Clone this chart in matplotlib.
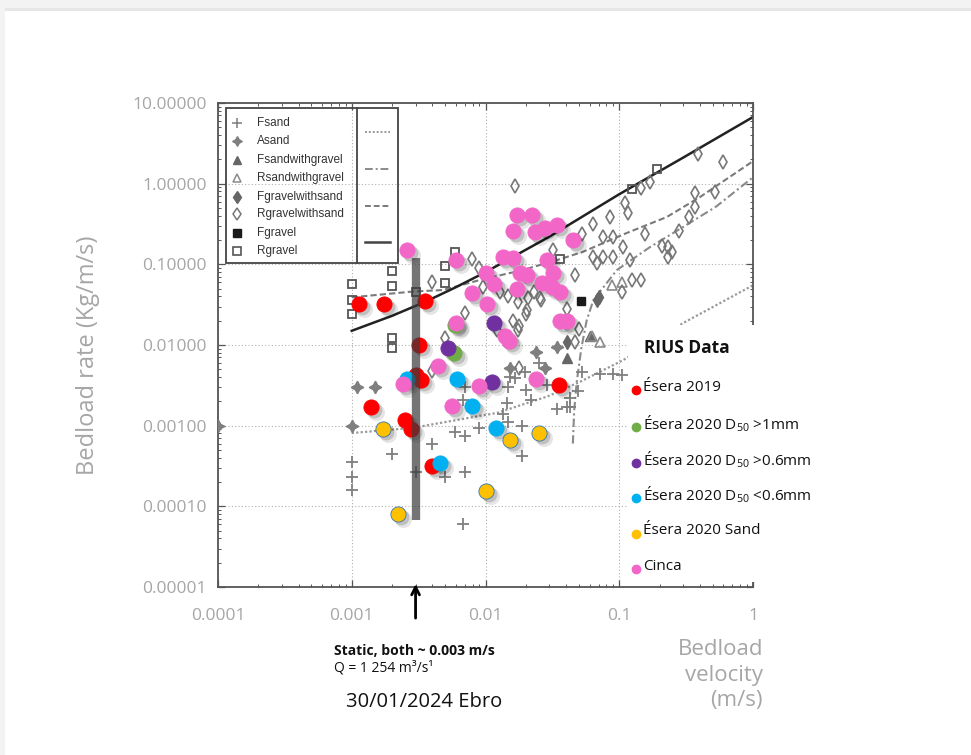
import numpy as np
import matplotlib
matplotlib.use("Agg")
import matplotlib.pyplot as plt
import matplotlib.ticker as ticker
from matplotlib import patches, transforms

plt.rcParams['font.family'] = ['Open Sans', 'DejaVu Sans']
plt.rcParams['mathtext.default'] = 'regular'

GREY_TXT = '#a6a6a6'

# ---- RIUS data (bedload velocity m/s, bedload rate kg/m/s) ----
esera19_v = [0.00113, 0.00174, 0.0035, 0.0032, 0.0030, 0.0033, 0.0014, 0.0025, 0.00276, 0.0040, 0.0355]
esera19_q = [0.032, 0.032, 0.035, 0.010, 0.0042, 0.0037, 0.0017, 0.00117, 0.00091, 0.00032, 0.0032]
d50_1mm_v = [0.0059, 0.0058]
d50_1mm_q = [0.0177, 0.0080]
d50_06up_v = [0.0116, 0.0052, 0.0112]
d50_06up_q = [0.019, 0.0092, 0.0035]
d50_06dn_v = [0.0026, 0.0061, 0.0079, 0.012, 0.0046]
d50_06dn_q = [0.0038, 0.0038, 0.00175, 0.00094, 0.00034]
sand20_v = [0.0017, 0.0152, 0.025, 0.010, 0.0022]
sand20_q = [0.00091, 0.00067, 0.00081, 0.000155, 0.00008]
cinca_v = [0.0026, 0.0060, 0.0172, 0.0223, 0.0160, 0.0234, 0.0278, 0.0343, 0.045, 0.0135,
           0.0160, 0.0288, 0.0100, 0.0116, 0.0180, 0.0204, 0.0320, 0.0172, 0.0264, 0.0313,
           0.0360, 0.0079, 0.0103, 0.0360, 0.0410, 0.0060, 0.0140, 0.0150, 0.0044, 0.0024,
           0.0089, 0.0056, 0.0240]
cinca_q = [0.15, 0.113, 0.41, 0.41, 0.26, 0.25, 0.28, 0.31, 0.20, 0.122,
           0.12, 0.113, 0.077, 0.057, 0.077, 0.074, 0.077, 0.049, 0.058, 0.052,
           0.045, 0.044, 0.032, 0.020, 0.020, 0.019, 0.013, 0.0112, 0.0055, 0.0033,
           0.0031, 0.00175, 0.0038]

# ---- background (literature) data ----
fsand_v = [0.002, 0.001, 0.001, 0.001, 0.004, 0.0059, 0.007, 0.003, 0.005, 0.007, 0.0068, 0.009,
           0.007, 0.0068, 0.0145, 0.0152, 0.0167, 0.0135, 0.0147, 0.0188, 0.0188, 0.0198, 0.0217,
           0.025, 0.0343, 0.043, 0.043, 0.029, 0.09, 0.105, 0.053, 0.049, 0.0147, 0.041, 0.072, 0.02]
fsand_q = [0.00044, 0.00035, 0.00023, 0.00016, 0.00059, 0.00083, 0.00075, 0.00027, 0.00023, 0.00027,
           0.00006, 0.00094, 0.003, 0.0021, 0.0019, 0.0040, 0.0039, 0.0014, 0.0011, 0.001, 0.00042,
           0.0046, 0.0021, 0.006, 0.0016, 0.0022, 0.0017, 0.0032, 0.0044, 0.0042, 0.0046, 0.0027,
           0.003, 0.0017, 0.0044, 0.0028]
asand_v = [0.0011, 0.0015, 0.0001, 0.001, 0.024, 0.028, 0.034, 0.0152]
asand_q = [0.003, 0.003, 0.001, 0.001, 0.0082, 0.0052, 0.0095, 0.0052]
fswg_v = [0.041, 0.060]
fswg_q = [0.0069, 0.013]
rswg_v = [0.063, 0.072, 0.088, 0.105]
rswg_q = [0.013, 0.011, 0.055, 0.060]
fgws_v = [0.041, 0.070, 0.068]
fgws_q = [0.011, 0.039, 0.036]
rgws_v = [0.0166, 0.004, 0.0079, 0.0089, 0.0096, 0.0128, 0.0147, 0.0174, 0.0207, 0.0254,
          0.0204, 0.023, 0.032, 0.047, 0.053, 0.064, 0.064, 0.085, 0.075, 0.09, 0.075, 0.09,
          0.068, 0.107, 0.12, 0.124, 0.145, 0.105, 0.11, 0.116, 0.145, 0.155, 0.17, 0.21,
          0.23, 0.28, 0.33, 0.37, 0.37, 0.52, 0.39, 0.6, 0.23, 0.25, 0.041, 0.05, 0.0178,
          0.016, 0.0122, 0.007, 0.005, 0.0174, 0.02, 0.026, 0.0178, 0.047, 0.004]
rgws_q = [0.93, 0.061, 0.116, 0.09, 0.053, 0.045, 0.04, 0.034, 0.038, 0.038,
          0.027, 0.045, 0.15, 0.074, 0.24, 0.32, 0.122, 0.385, 0.22, 0.22, 0.122, 0.122,
          0.104, 0.163, 0.113, 0.064, 0.064, 0.045, 0.57, 0.43, 0.88, 0.24, 1.05, 0.17,
          0.122, 0.26, 0.385, 0.52, 0.77, 0.78, 2.3, 1.85, 0.163, 0.142, 0.028, 0.016, 0.017,
          0.02, 0.0153, 0.025, 0.0122, 0.0153, 0.024, 0.036, 0.0052, 0.0109, 0.0047]
fgravel_v = [0.052]
fgravel_q = [0.035]
rgravel_v = [0.001, 0.001, 0.001, 0.002, 0.002, 0.002, 0.002, 0.0059, 0.005, 0.005, 0.003, 0.036, 0.125, 0.19]
rgravel_q = [0.057, 0.036, 0.024, 0.083, 0.054, 0.0122, 0.0092, 0.142, 0.095, 0.059, 0.046, 0.116, 0.86, 1.5]

# fitted curves
solid_v = [0.001, 0.002, 0.0035, 0.006, 0.01, 0.03, 0.1, 0.3, 1.0]
solid_q = [0.015, 0.023, 0.034, 0.052, 0.08, 0.22, 0.74, 2.1, 6.7]
dashed_v = [0.001, 0.00286, 0.0048, 0.0091, 0.019, 0.036, 0.053, 0.114, 0.226, 0.4, 1.0]
dashed_q = [0.039, 0.046, 0.048, 0.064, 0.085, 0.116, 0.142, 0.245, 0.385, 0.68, 1.9]
dashdot_v = [0.045, 0.046, 0.048, 0.052, 0.057, 0.064, 0.096, 0.17, 0.3, 0.53, 1.0]
dashdot_q = [0.0006, 0.0015, 0.0034, 0.009, 0.02, 0.036, 0.085, 0.164, 0.29, 0.52, 1.2]
dotted_v = [0.001, 0.00286, 0.0122, 0.029, 0.051, 0.107, 0.3, 1.0]
dotted_q = [0.00081, 0.00094, 0.00144, 0.0023, 0.0035, 0.0065, 0.0187, 0.055]

static_v = 0.003
bar_q = [0.12, 0.000068]

scan_labels = ['Fsand', 'Asand', 'Fsandwithgravel', 'Rsandwithgravel',
               'Fgravelwithsand', 'Rgravelwithsand', 'Fgravel', 'Rgravel']
rius_labels = ['Ésera 2019', 'Ésera 2020 D$_{50}$ >1mm', 'Ésera 2020 D$_{50}$ >0.6mm',
               'Ésera 2020 D$_{50}$ <0.6mm', 'Ésera 2020 Sand', 'Cinca']
rius_colors = ['#ff0000', '#70ad47', '#7030a0', '#00b0f0', '#ffc000', '#f266c8']

fig = plt.figure(figsize=(9.71, 7.55), dpi=100, facecolor='#f3f3f3')
fig.add_artist(patches.Rectangle((5 / 971, 0), 1, 1 - 11 / 755, transform=fig.transFigure,
                                 facecolor='white', edgecolor='none', zorder=-10))
fig.add_artist(patches.Rectangle((5 / 971, 1 - 11 / 755), 1, 3 / 755, transform=fig.transFigure,
                                 facecolor='#e6e6e6', edgecolor='none', zorder=-10))

ax = fig.add_axes([218 / 971, 168 / 755, 535 / 971, 484 / 755])
ax.set_facecolor('none')
ax.set_xscale('log')
ax.set_yscale('log')
ax.set_xlim(1e-4, 1)
ax.set_ylim(1e-5, 10)
ax.set_yticks([1e-5, 1e-4, 1e-3, 1e-2, 1e-1, 1, 10])
ax.set_xticks([1e-4, 1e-3, 1e-2, 1e-1, 1])
ax.yaxis.set_major_formatter(ticker.FuncFormatter(lambda v, p: '%.5f' % v))
ax.xaxis.set_major_formatter(ticker.FuncFormatter(lambda v, p: '%g' % v))
ax.tick_params(which='both', direction='in', top=True, right=True, color='#555555')
ax.tick_params(which='major', length=5, width=0.9, labelsize=12.5, labelcolor=GREY_TXT)
ax.tick_params(which='minor', length=2.5, width=0.7)
ax.tick_params(axis='y', which='major', pad=8)
ax.tick_params(axis='x', which='major', pad=15)
ax.grid(True, which='major', linestyle=(0, (1, 2)), color='#b0b0b0', lw=0.8)
for s in ax.spines.values():
    s.set_color('#555555')
    s.set_linewidth(1.3)

# literature curves
ax.plot(dotted_v, dotted_q, color='#999999', lw=1.6, ls=(0, (1, 1)), zorder=2)
ax.plot(dashdot_v, dashdot_q, color='#8a8a8a', lw=1.5, ls=(0, (4, 1.5, 1, 1.5)), zorder=2)
ax.plot(dashed_v, dashed_q, color='#7a7a7a', lw=1.5, ls=(0, (3, 1.5)), zorder=2)
ax.plot(solid_v, solid_q, color='#222222', lw=1.8, zorder=2)

# literature points
ax.plot(fsand_v, fsand_q, '+', color='#7f7f7f', ms=9, mew=1.3, ls='none', zorder=3)
ax.plot(asand_v, asand_q, marker=(4, 1, 0), color='#7f7f7f', ms=9, ls='none', zorder=3)
ax.plot(fswg_v, fswg_q, '^', color='#666666', ms=7, ls='none', zorder=3)
ax.plot(rswg_v, rswg_q, '^', mfc='none', mec='#8a8a8a', ms=7, mew=1.2, ls='none', zorder=3)
ax.plot(fgws_v, fgws_q, 'd', color='#666666', ms=7.5, ls='none', zorder=3)
ax.plot(rgws_v, rgws_q, 'd', mfc='none', mec='#777777', ms=7.5, mew=1.2, ls='none', zorder=3)
ax.plot(fgravel_v, fgravel_q, 's', color='#1a1a1a', ms=6, ls='none', zorder=3)
ax.plot(rgravel_v, rgravel_q, 's', mfc='none', mec='#555555', ms=6, mew=1.3, ls='none', zorder=3)

# scanned legend box
ax.add_patch(patches.Rectangle((0.015, 0.669), 0.321, 0.321, transform=ax.transAxes,
                               fill=False, edgecolor='#444444', lw=1.3, zorder=4))
ax.plot([0.26, 0.26], [0.669, 0.990], transform=ax.transAxes, color='#444444', lw=1.3, zorder=4)
leg_y = [0.959, 0.921, 0.882, 0.845, 0.806, 0.771, 0.732, 0.694]
leg_style = [dict(marker='+', color='#7f7f7f', ms=7, mew=1.1),
             dict(marker=(4, 1, 0), color='#7f7f7f', ms=7),
             dict(marker='^', color='#666666', ms=6),
             dict(marker='^', mfc='none', mec='#8a8a8a', ms=6, mew=1.1),
             dict(marker='d', color='#666666', ms=6),
             dict(marker='d', mfc='none', mec='#777777', ms=6, mew=1.1),
             dict(marker='s', color='#1a1a1a', ms=5.5),
             dict(marker='s', mfc='none', mec='#555555', ms=5.5, mew=1.2)]
for yy, lab, st in zip(leg_y, scan_labels, leg_style):
    ax.plot([0.0355], [yy], transform=ax.transAxes, ls='none', zorder=5, **st)
    ax.text(0.073, yy, lab, transform=ax.transAxes, va='center', ha='left',
            fontsize=8.5, family='Liberation Sans', color='#333333', zorder=5)
line_y = [0.940, 0.864, 0.787, 0.713]
line_st = [dict(color='#999999', lw=1.4, ls=(0, (1, 1))),
           dict(color='#8a8a8a', lw=1.4, ls=(0, (4, 1.5, 1, 1.5))),
           dict(color='#7a7a7a', lw=1.4, ls=(0, (3, 1.5))),
           dict(color='#444444', lw=1.8)]
for yy, st in zip(line_y, line_st):
    ax.plot([0.275, 0.321], [yy, yy], transform=ax.transAxes, zorder=5, **st)

# RIUS points with a soft drop shadow
rius_v = [esera19_v, d50_1mm_v, d50_06up_v, d50_06dn_v, sand20_v, cinca_v]
rius_q = [esera19_q, d50_1mm_q, d50_06up_q, d50_06dn_q, sand20_q, cinca_q]
sh1 = transforms.offset_copy(ax.transData, fig=fig, x=3, y=-3, units='dots')
sh2 = transforms.offset_copy(ax.transData, fig=fig, x=5, y=-5, units='dots')
for vv, qq in zip(rius_v, rius_q):
    ax.scatter(vv, qq, s=150, color='black', alpha=0.10, lw=0, transform=sh2, zorder=6)
    ax.scatter(vv, qq, s=130, color='black', alpha=0.16, lw=0, transform=sh1, zorder=6)
for vv, qq, c in zip(rius_v, rius_q, rius_colors):
    ec = '#2e75b6' if c == '#ffc000' else c
    ax.scatter(vv, qq, s=120, color=c, edgecolors=ec, linewidths=0.6, zorder=7)

# static velocity bar
ax.plot([static_v, static_v], bar_q, color='#3a3a3a', alpha=0.7, lw=6,
        solid_capstyle='butt', zorder=8)

# RIUS legend box
ax.add_patch(patches.Rectangle((0.766, 0.01), 0.33, 0.531, transform=ax.transAxes,
                               facecolor='white', edgecolor='none', clip_on=False, zorder=9))
ax.text(0.796, 0.494, 'RIUS Data', transform=ax.transAxes, fontsize=12.5, weight='bold',
        va='center', ha='left', color='#111111', zorder=10)
rius_y = [0.413, 0.337, 0.262, 0.190, 0.116, 0.043]
for yy, lab, c in zip(rius_y, rius_labels, rius_colors):
    ax.plot([0.7815], [yy - 0.006], 'o', color=c, ms=6, transform=ax.transAxes,
            clip_on=False, zorder=10)
    ax.text(0.794, yy, lab, transform=ax.transAxes, fontsize=11, va='center', ha='left',
            color='#111111', zorder=10, clip_on=False)

# annotation below the axis
ax.annotate('', xy=(static_v, 0.012), xycoords=('data', 'axes fraction'),
            xytext=(static_v, -0.07), textcoords=('data', 'axes fraction'),
            arrowprops=dict(arrowstyle='->', color='black', lw=2, mutation_scale=14))
fig.text(334 / 971, 1 - 651 / 755, 'Static, both ~ 0.003 m/s', fontsize=10, weight='bold',
         va='center', ha='left', color='#111111')
fig.text(334 / 971, 1 - 668 / 755, 'Q = 1 254 m³/s¹', fontsize=10, va='center', ha='left',
         color='#111111')
fig.text(346 / 971, 1 - 702 / 755, '30/01/2024 Ebro', fontsize=14.5, va='center', ha='left',
         color='#111111')

fig.text(88 / 971, 1 - 355 / 755, 'Bedload rate (Kg/m/s)', rotation=90, fontsize=17,
         color=GREY_TXT, va='center', ha='center')
fig.text(763 / 971, 1 - 675 / 755, 'Bedload\nvelocity\n(m/s)', fontsize=16, color=GREY_TXT,
         va='center', ha='right', linespacing=1.3)

fig.savefig('out.png', dpi=100, facecolor=fig.get_facecolor())
